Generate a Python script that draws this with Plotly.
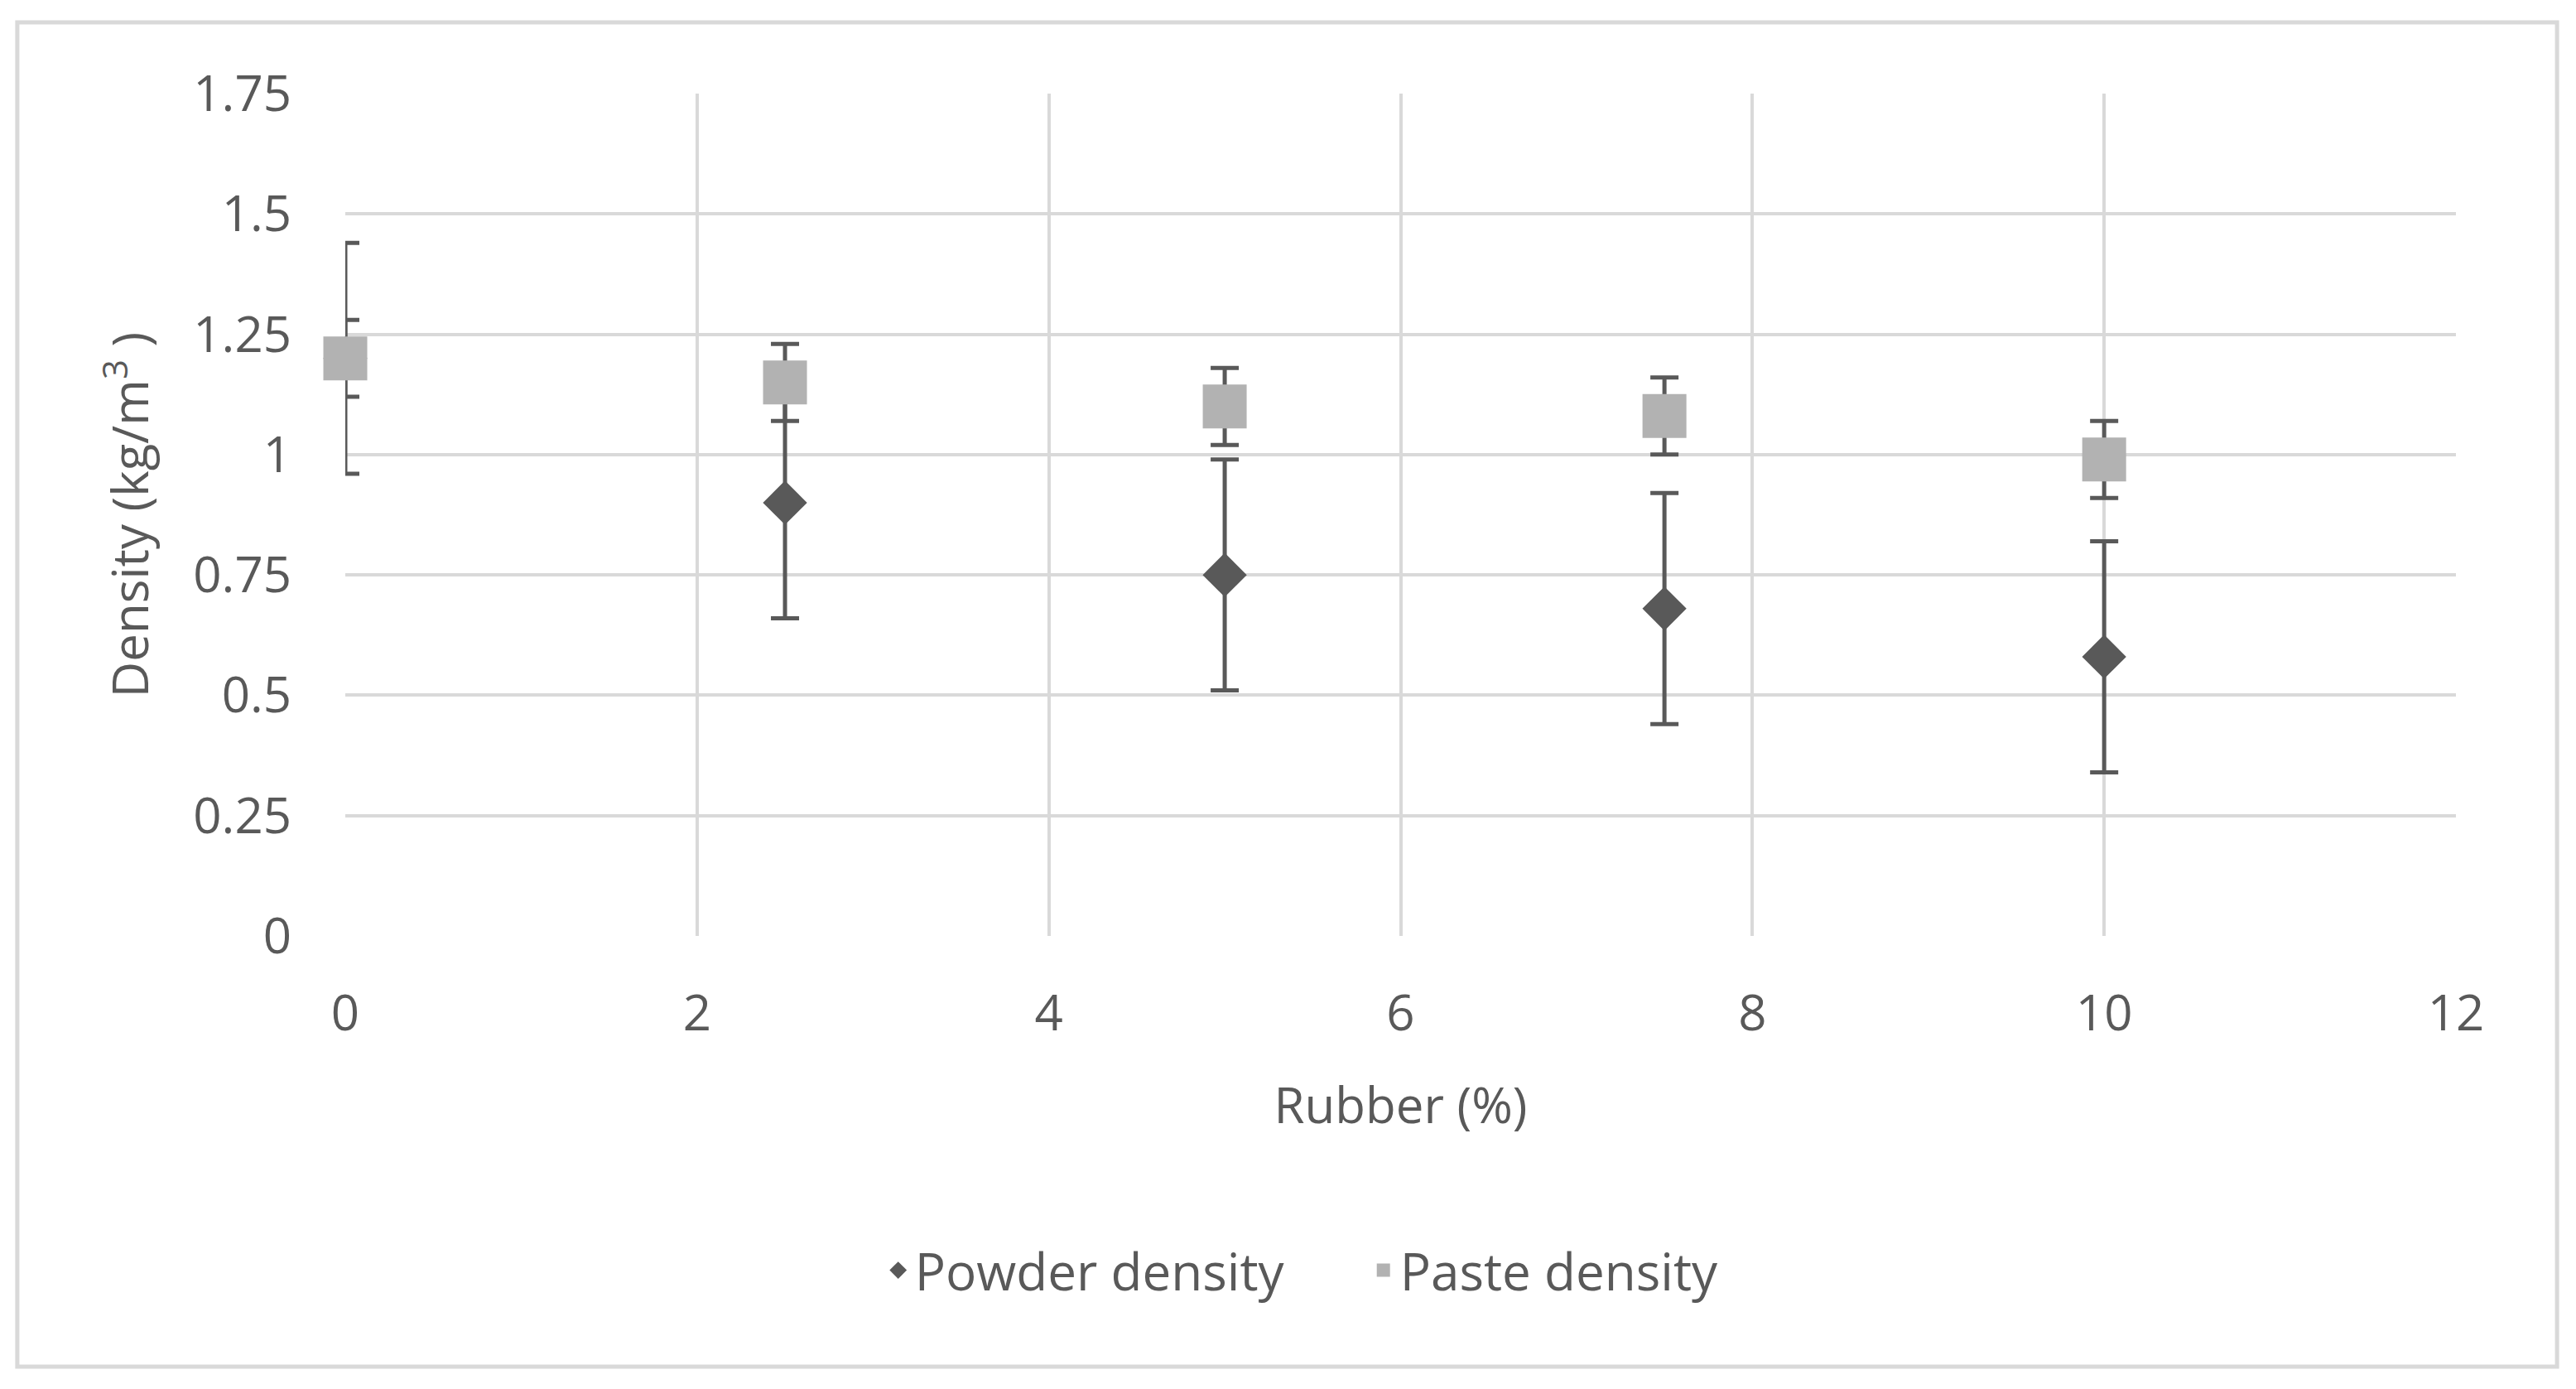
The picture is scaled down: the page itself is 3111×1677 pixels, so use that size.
import plotly.graph_objects as go

# data
rubber = [0, 2.5, 5, 7.5, 10]
powder_density = [1.20, 0.90, 0.75, 0.68, 0.58]
powder_err = [0.24, 0.24, 0.24, 0.24, 0.24]
paste_density = [1.20, 1.15, 1.10, 1.08, 0.99]
paste_err = [0.08, 0.08, 0.08, 0.08, 0.08]

x_ticks = [0, 2, 4, 6, 8, 10, 12]
y_ticks = [0, 0.25, 0.5, 0.75, 1, 1.25, 1.5, 1.75]
y_tick_text = ["0", "0.25", "0.5", "0.75", "1", "1.25", "1.5", "1.75"]

DARK = "#595959"
LIGHT = "#B2B2B2"
GRID = "#D9D9D9"
FONT = "Open Sans"

fig = go.Figure()

# error bars are clipped at the plot area, markers are not
fig.add_trace(go.Scatter(
    x=rubber, y=powder_density, mode="markers",
    marker=dict(size=1, color="rgba(0,0,0,0)"),
    error_y=dict(type="data", array=powder_err, color=DARK, thickness=5, width=17),
    showlegend=False, hoverinfo="skip", cliponaxis=True,
))
fig.add_trace(go.Scatter(
    x=rubber, y=powder_density, mode="markers", name="Powder density",
    marker=dict(symbol="diamond", size=41, color=DARK),
    cliponaxis=False,
))
fig.add_trace(go.Scatter(
    x=rubber, y=paste_density, mode="markers",
    marker=dict(size=1, color="rgba(0,0,0,0)"),
    error_y=dict(type="data", array=paste_err, color=DARK, thickness=5, width=17),
    showlegend=False, hoverinfo="skip", cliponaxis=True,
))
fig.add_trace(go.Scatter(
    x=rubber, y=paste_density, mode="markers", name="Paste density",
    marker=dict(symbol="square", size=53, color=LIGHT),
    cliponaxis=False,
))

# the page body adds an 8 px offset, so the figure is 8 px smaller
fig.update_layout(
    width=3103, height=1669,
    margin=dict(l=409, r=145, t=105, b=547, autoexpand=False),
    paper_bgcolor="white", plot_bgcolor="white",
    font=dict(family=FONT, size=60, color=DARK),
    legend=dict(
        orientation="h", x=0.484, xanchor="center", y=-0.397, yanchor="middle",
        font=dict(size=62, color=DARK), itemsizing="trace",
        entrywidth=541, entrywidthmode="pixels",
    ),
    shapes=[dict(
        type="rect", xref="paper", yref="paper",
        x0=-0.1554, x1=1.0479, y0=-0.5113, y1=1.0846,
        line=dict(color=GRID, width=5), layer="below",
    )],
)

fig.update_xaxes(
    range=[0, 12], tickvals=x_ticks, showgrid=True, gridcolor=GRID, gridwidth=4,
    zeroline=False, showline=False, ticks="", ticklabelstandoff=53,
    tickfont=dict(size=60, color=DARK),
    title=dict(text="Rubber (%)", font=dict(size=60, color=DARK), standoff=52),
    automargin=False,
)
fig.update_yaxes(
    range=[0, 1.75], tickvals=y_ticks, ticktext=y_tick_text, showgrid=True,
    gridcolor=GRID, gridwidth=4, zeroline=False, showline=False, ticks="",
    ticklabelstandoff=64, tickfont=dict(size=60, color=DARK),
    title=dict(text="Density (kg/m<sup>3</sup> )", font=dict(size=60, color=DARK), standoff=34),
    automargin=False,
)

fig.write_html("out.html")
